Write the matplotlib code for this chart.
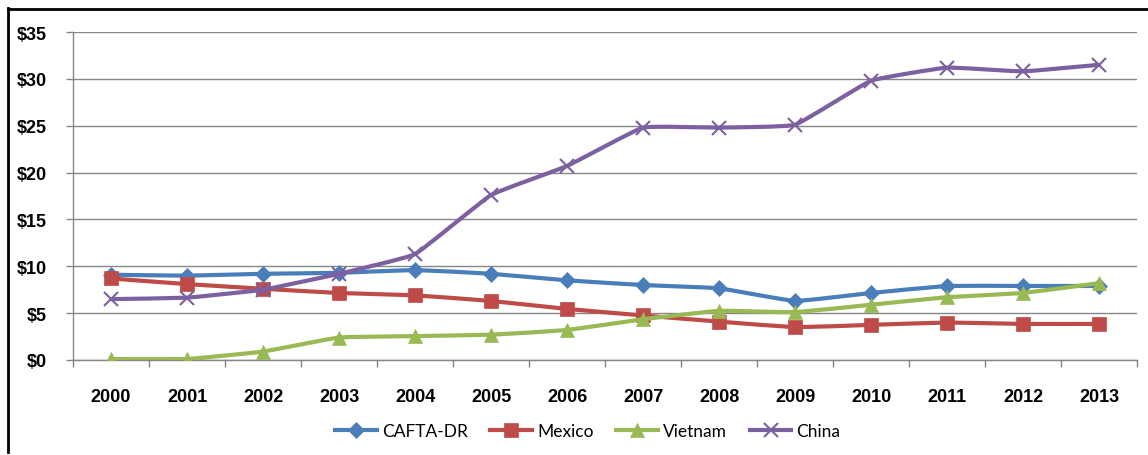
import matplotlib
matplotlib.use("Agg")
import matplotlib.pyplot as plt
import numpy as np
from matplotlib.path import Path
from matplotlib.patches import PathPatch
from matplotlib.lines import Line2D

years = [str(y) for y in range(2000, 2014)]
cafta = [9.1, 9.0, 9.2, 9.3, 9.6, 9.2, 8.5, 8.0, 7.65, 6.3, 7.15, 7.9, 7.9, 7.9]
mexico = [8.7, 8.1, 7.6, 7.15, 6.9, 6.3, 5.45, 4.75, 4.1, 3.5, 3.75, 4.0, 3.85, 3.85]
vietnam = [0.1, 0.1, 0.9, 2.4, 2.55, 2.7, 3.2, 4.35, 5.25, 5.1, 5.9, 6.7, 7.15, 8.2]
china = [6.5, 6.65, 7.5, 9.2, 11.3, 17.6, 20.7, 24.8, 24.8, 25.1, 29.8, 31.2, 30.8, 31.5]
series_names = ["CAFTA-DR", "Mexico", "Vietnam", "China"]
yticks = [0, 5, 10, 15, 20, 25, 30, 35]
ytick_labels = ["$%d" % v for v in yticks]

colors = ["#4A7EBB", "#BE4B48", "#98B954", "#7D60A0"]
markers = ["D", "s", "^", "x"]
msizes = [8, 10, 10, 10]

plt.rcParams['font.family'] = ['Lato', 'DejaVu Sans']
tick_font = dict(family=['Liberation Sans', 'DejaVu Sans'], weight='bold', size=13)

fig = plt.figure(figsize=(11.48, 4.56), dpi=100)
ax = fig.add_axes([73/1148, 1-361/456, (1137-73)/1148, (361-33)/456])


def smooth_path(xs, ys, k=0.05):
    pts = np.column_stack([xs, ys]).astype(float)
    n = len(pts)
    verts = [pts[0]]
    codes = [Path.MOVETO]
    for i in range(n - 1):
        p0 = pts[i - 1] if i > 0 else pts[i]
        p1 = pts[i]
        p2 = pts[i + 1]
        p3 = pts[i + 2] if i + 2 < n else pts[i + 1]
        c1 = p1 + (p2 - p0) * k
        c2 = p2 - (p3 - p1) * k
        verts += [c1, c2, p2]
        codes += [Path.CURVE4] * 3
    return Path(verts, codes)


x = np.arange(len(years))
data = [cafta, mexico, vietnam, china]
handles = []
for i, (vals, name) in enumerate(zip(data, series_names)):
    path = smooth_path(x, vals)
    patch = PathPatch(path, facecolor='none', edgecolor=colors[i], lw=3.0,
                      zorder=3 + 2 * i, capstyle='round', joinstyle='round')
    ax.add_patch(patch)
    mew = 1.5 if markers[i] == 'x' else 0.5
    ax.plot(x, vals, linestyle='none', marker=markers[i], ms=msizes[i],
            color=colors[i], mec=colors[i], mew=mew, zorder=4 + 2 * i)
    handles.append(Line2D([], [], color=colors[i], lw=3.0, marker=markers[i],
                          ms=msizes[i], mec=colors[i], mew=mew, label=name))

ax.set_xlim(-0.5, len(years) - 0.5)
ax.set_ylim(0, 35)
ax.set_yticks(yticks)
ax.set_yticklabels(ytick_labels, **tick_font)
ax.set_xticks(np.arange(-0.5, len(years), 1.0))
ax.set_xticklabels([])
ax.set_xticks(x, minor=True)
ax.set_xticklabels(years, minor=True, **tick_font)
ax.tick_params(axis='x', which='major', length=5, color='#868686', width=1)
ax.tick_params(axis='x', which='minor', length=0, pad=20)
ax.tick_params(axis='y', length=5, color='#868686', width=1, pad=14)
for lbl in ax.get_yticklabels():
    lbl.set_horizontalalignment('right')

ax.grid(axis='y', color='#868686', lw=1, zorder=0)
ax.set_axisbelow(True)
for s in ['top', 'right']:
    ax.spines[s].set_visible(False)
for s in ['left', 'bottom']:
    ax.spines[s].set_color('#868686')
    ax.spines[s].set_linewidth(1)

fig.legend(handles=handles, loc='center', bbox_to_anchor=(0.512, 0.053),
           ncol=4, frameon=False, fontsize=12.5, handlelength=2.4,
           columnspacing=1.3, handletextpad=0.3)

# figure border (left and top only)
fig.add_artist(Line2D([7.5/1148, 7.5/1148], [1-9/456, 1-453/456],
                      transform=fig.transFigure, color='black', lw=2))
fig.add_artist(Line2D([7.5/1148, 1.0], [1-10/456, 1-10/456],
                      transform=fig.transFigure, color='black', lw=2))

fig.savefig("out.png", dpi=100)
